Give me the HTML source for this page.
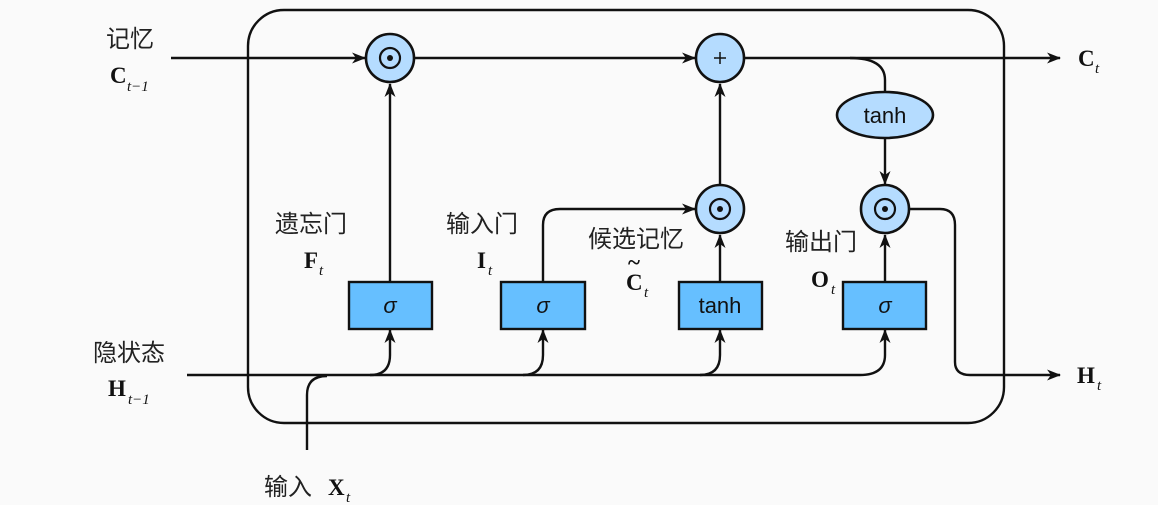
<!DOCTYPE html>
<html><head><meta charset="utf-8"><style>
html,body{margin:0;padding:0;background:#fafafa;}
svg{display:block}
.cj{font-family:"Liberation Sans","Noto Sans CJK SC",sans-serif;font-size:24px;fill:#222}
.b{font-family:"Liberation Serif",serif;font-weight:bold;font-size:23px;fill:#111}
.s{font-family:"Liberation Serif",serif;font-style:italic;font-size:15px;fill:#111}
.t{font-family:"Liberation Sans",sans-serif;font-size:22px;fill:#111}
</style></head><body>
<svg width="1158" height="505" viewBox="0 0 1158 505" xmlns="http://www.w3.org/2000/svg">
<defs><marker id="a" markerWidth="14" markerHeight="11" refX="13" refY="5.5" orient="auto" markerUnits="userSpaceOnUse"><path d="M0,0 L14,5.5 L0,11 L4,5.5 Z" fill="#111"/></marker></defs>
<g fill="none" stroke="#111" stroke-width="2.4">
<rect x="248" y="10" width="756" height="413" rx="36"/>
<line x1="171" y1="58" x2="365" y2="58" marker-end="url(#a)"/>
<line x1="415" y1="58" x2="695" y2="58" marker-end="url(#a)"/>
<line x1="745" y1="58" x2="1060" y2="58" marker-end="url(#a)"/>
<path d="M850,58 Q885,58 885,80 L885,92"/>
<line x1="885" y1="138" x2="885" y2="184" marker-end="url(#a)"/>
<path d="M910,209 L940,209 Q955,209 955,225 L955,362 Q955,375 970,375 L1060,375" marker-end="url(#a)"/>
<line x1="187" y1="375" x2="860" y2="375"/>
<path d="M860,375 Q885,375 885,355 L885,330" marker-end="url(#a)"/>
<path d="M370,375 Q390,375 390,355 L390,330" marker-end="url(#a)"/>
<path d="M523,375 Q543,375 543,355 L543,330" marker-end="url(#a)"/>
<path d="M700,375 Q720,375 720,355 L720,330" marker-end="url(#a)"/>
<path d="M307,450 L307,395 Q307,376 327,376"/>
<line x1="390" y1="282" x2="390" y2="84" marker-end="url(#a)"/>
<path d="M543,282 L543,225 Q543,209 560,209 L695,209" marker-end="url(#a)"/>
<line x1="720" y1="282" x2="720" y2="235" marker-end="url(#a)"/>
<line x1="720" y1="185" x2="720" y2="84" marker-end="url(#a)"/>
<line x1="885" y1="282" x2="885" y2="235" marker-end="url(#a)"/>
</g>
<g stroke="#111" stroke-width="2.6" fill="#b5dcff">
<circle cx="390" cy="58" r="24"/><circle cx="720" cy="58" r="24"/>
<circle cx="720" cy="209" r="24"/><circle cx="885" cy="209" r="24"/>
<ellipse cx="885" cy="115" rx="48" ry="23"/>
</g>
<g stroke="#111" stroke-width="2.2" fill="none">
<circle cx="390" cy="58" r="10"/><circle cx="720" cy="209" r="10"/><circle cx="885" cy="209" r="10"/>
</g>
<g fill="#111"><circle cx="390" cy="58" r="3"/><circle cx="720" cy="209" r="3"/><circle cx="885" cy="209" r="3"/></g>
<path d="M714,58 H726 M720,52 V64" stroke="#111" stroke-width="1.5"/>
<g stroke="#111" stroke-width="2.4" fill="#66bfff">
<rect x="349" y="282" width="83" height="47"/><rect x="501" y="282" width="84" height="47"/>
<rect x="679" y="282" width="83" height="47"/><rect x="843" y="282" width="83" height="47"/>
</g>
<text class="t" x="885" y="123" text-anchor="middle">tanh</text>
<text class="t" x="720" y="313" text-anchor="middle">tanh</text>
<g class="t" font-style="italic" text-anchor="middle"><text x="390" y="313">σ</text><text x="543" y="313">σ</text><text x="885" y="313">σ</text></g>
<text class="cj" x="106" y="47">记忆</text>
<text class="b" x="110" y="83">C</text><text class="s" x="127" y="91">t−1</text>
<text class="cj" x="93" y="361">隐状态</text>
<text class="b" x="108" y="396">H</text><text class="s" x="128" y="404">t−1</text>
<text class="cj" x="275" y="232">遗忘门</text>
<text class="b" x="304" y="268">F</text><text class="s" x="319" y="275">t</text>
<text class="cj" x="446" y="232">输入门</text>
<text class="b" x="477" y="268">I</text><text class="s" x="488" y="275">t</text>
<text class="cj" x="588" y="247">候选记忆</text>
<text class="b" x="626" y="290">C</text><text class="b" x="628" y="270" font-size="18">~</text><text class="s" x="644" y="297">t</text>
<text class="cj" x="785" y="250">输出门</text>
<text class="b" x="811" y="287">O</text><text class="s" x="831" y="294">t</text>
<text class="cj" x="264" y="495">输入</text>
<text class="b" x="328" y="495">X</text><text class="s" x="346" y="502">t</text>
<text class="b" x="1078" y="66">C</text><text class="s" x="1095" y="73">t</text>
<text class="b" x="1077" y="383">H</text><text class="s" x="1097" y="390">t</text>
</svg>
</body></html>
